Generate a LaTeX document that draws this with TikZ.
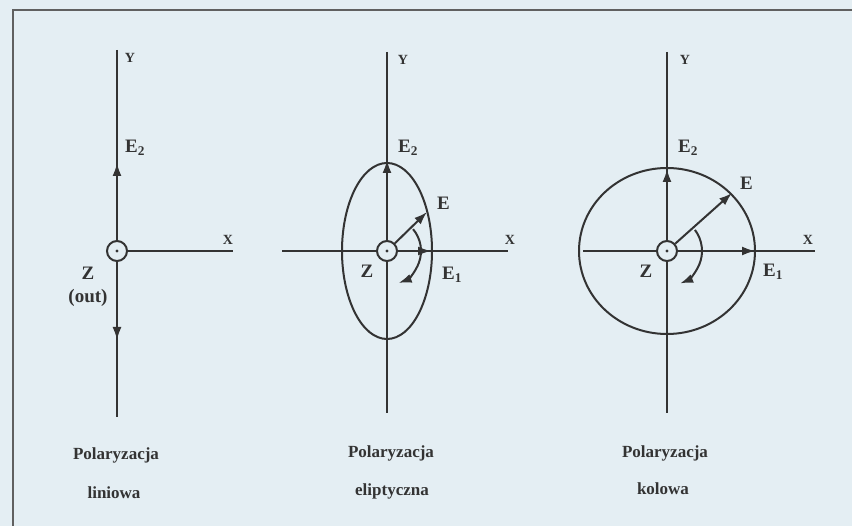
\documentclass[tikz,border=0pt]{standalone}
\usepackage{fontspec}
\setmainfont{Liberation Serif}
\usetikzlibrary{arrows.meta,calc}
\definecolor{bg}{HTML}{E4EEF3}
\definecolor{ink}{HTML}{333333}
\definecolor{framec}{HTML}{606060}
\tikzset{
  axisline/.style={draw=ink, line width=2pt},
  vec/.style={draw=ink, line width=2pt, -{Latex[length=13pt,width=9pt]}},
  origin/.style={circle, draw=ink, line width=2pt, fill=bg, minimum size=20pt, inner sep=0pt},
  lbl/.style={text=ink, font=\fontsize{19}{21}\selectfont\bfseries, inner sep=0pt},
  axlbl/.style={text=ink, font=\fontsize{14}{16}\selectfont\bfseries, inner sep=0pt, anchor=base},
  captxt/.style={text=ink, font=\fontsize{17}{20}\selectfont\bfseries, inner sep=0pt, anchor=base},
}
\begin{document}
\begin{tikzpicture}[x=1pt, y=-1pt]
\useasboundingbox (0,0) rectangle (852,526);
\fill[bg] (0,0) rectangle (852,526);
% frame (open on right and bottom)
\coordinate (fa) at (13,526);
\coordinate (fb) at (13,10);
\coordinate (fc) at (852,10);
\draw[draw=framec, line width=1.6pt] (fa) -- (fb) -- (fc);

% ---------- Panel 1: linear ----------
\coordinate (c1) at (117,251);
\coordinate (yt1) at (117,50);
\coordinate (yb1) at (117,417);
\coordinate (xe1) at (233,251);
\coordinate (e2t1) at (117,163);
\coordinate (e2b1) at (117,340);
\draw[axisline] (yt1) -- (yb1);
\node[origin] (o1) at (c1) {};
\fill[ink] (c1) circle (1.6pt);
\draw[axisline] (o1) -- (xe1);
\draw[vec] (o1) -- (e2t1);
\draw[vec] (o1) -- (e2b1);
\node[axlbl] (ly1) at (130,63) {Y};
\node[axlbl] (lx1) at (228,245) {X};
\node[lbl, anchor=base west] (le21) at (125,153) {E\textsubscript{2}};
\node[lbl, anchor=base] (lz1) at (88,280) {Z};
\node[lbl, anchor=base] (lout1) at (88,303) {(out)};

% ---------- Panel 2: elliptical ----------
\coordinate (c2) at (387,251);
\coordinate (yt2) at (387,52);
\coordinate (yb2) at (387,413);
\coordinate (xs2) at (282,251);
\coordinate (xe2) at (508,251);
\coordinate (e2t2) at (387,160);
\coordinate (et2) at (427,212);
\coordinate (e1t2) at (431,251);
\draw[axisline] (yt2) -- (yb2);
\draw[axisline] (xs2) -- (xe2);
\draw[axisline] (c2) ellipse [x radius=45pt, y radius=88pt];
\node[origin] (o2) at (c2) {};
\fill[ink] (c2) circle (1.6pt);
\draw[vec] (o2) -- (e2t2);
\draw[vec] (o2) -- (et2);
\draw[vec] (o2) -- (e1t2);
\draw[vec] ($(c2)+(40:34pt)$) arc (40:-70:34pt);
\node[axlbl] (ly2) at (403,65) {Y};
\node[axlbl] (lx2) at (510,245) {X};
\node[lbl, anchor=base west] (le22) at (398,153) {E\textsubscript{2}};
\node[lbl, anchor=base west] (le2) at (437,210) {E};
\node[lbl, anchor=base west] (le12) at (442,280) {E\textsubscript{1}};
\node[lbl, anchor=base] (lz2) at (367,278) {Z};

% ---------- Panel 3: circular ----------
\coordinate (c3) at (667,251);
\coordinate (yt3) at (667,52);
\coordinate (yb3) at (667,413);
\coordinate (xs3) at (583,251);
\coordinate (xe3) at (815,251);
\coordinate (e2t3) at (667,169);
\coordinate (et3) at (732,193);
\coordinate (e1t3) at (755,251);
\draw[axisline] (yt3) -- (yb3);
\draw[axisline] (xs3) -- (xe3);
\draw[axisline] (c3) ellipse [x radius=88pt, y radius=83pt];
\node[origin] (o3) at (c3) {};
\fill[ink] (c3) circle (1.6pt);
\draw[vec] (o3) -- (e2t3);
\draw[vec] (o3) -- (et3);
\draw[vec] (o3) -- (e1t3);
\draw[vec] ($(c3)+(37:35pt)$) arc (37:-68:35pt);
\node[axlbl] (ly3) at (685,65) {Y};
\node[axlbl] (lx3) at (808,245) {X};
\node[lbl, anchor=base west] (le23) at (678,153) {E\textsubscript{2}};
\node[lbl, anchor=base west] (le3) at (740,190) {E};
\node[lbl, anchor=base west] (le13) at (763,277) {E\textsubscript{1}};
\node[lbl, anchor=base] (lz3) at (646,278) {Z};

% ---------- captions ----------
\node[captxt] (p1a) at (116,460) {Polaryzacja};
\node[captxt] (p1b) at (114,499) {liniowa};
\node[captxt] (p2a) at (391,458) {Polaryzacja};
\node[captxt] (p2b) at (392,496) {eliptyczna};
\node[captxt] (p3a) at (665,458) {Polaryzacja};
\node[captxt] (p3b) at (663,495) {kolowa};
\end{tikzpicture}
\end{document}
